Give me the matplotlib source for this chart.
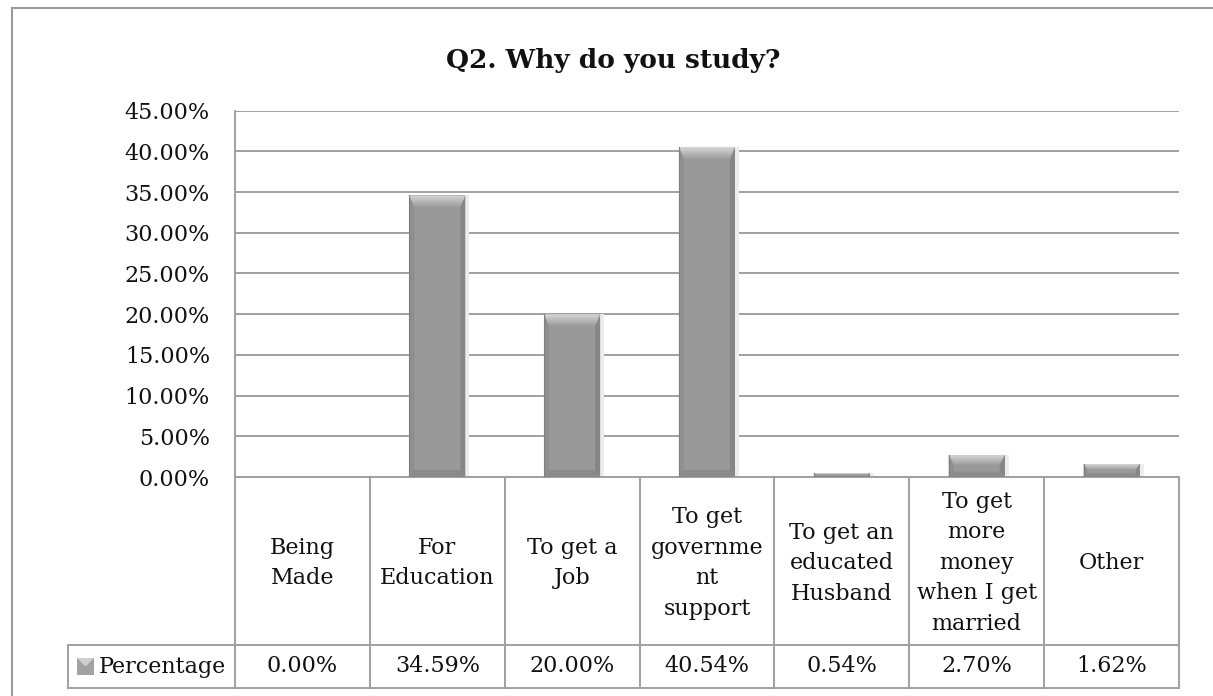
import numpy as np
import matplotlib
matplotlib.use("Agg")
import matplotlib.pyplot as plt
from matplotlib.patches import Rectangle, Polygon
from matplotlib.transforms import blended_transform_factory
from matplotlib.ticker import FuncFormatter

categories = [
    "Being\nMade",
    "For\nEducation",
    "To get a\nJob",
    "To get\ngovernme\nnt\nsupport",
    "To get an\neducated\nHusband",
    "To get\nmore\nmoney\nwhen I get\nmarried",
    "Other",
]
percentages = [0.0, 34.59, 20.00, 40.54, 0.54, 2.70, 1.62]
series_name = "Percentage"
title = "Q2. Why do you study?"
y_ticks = [0, 5, 10, 15, 20, 25, 30, 35, 40, 45]

plt.rcParams["font.family"] = ["DejaVu Serif"]
TEXT = "#111111"
LINE = "#a0a0a0"
FS = 16

W, H = 1213, 696
fig = plt.figure(figsize=(W / 100, H / 100), dpi=100)
fig.patch.set_facecolor("white")

# plot area in pixel terms
left_px, right_px, top_px, base_px = 235, 1179, 110.7, 477
ax = fig.add_axes([left_px / W, 1 - base_px / H,
                   (right_px - left_px) / W, (base_px - top_px) / H])

n = len(categories)
ax.set_xlim(-0.5, n - 0.5)
ax.set_ylim(0, max(y_ticks))
ax.set_yticks(y_ticks)
ax.yaxis.set_major_formatter(FuncFormatter(lambda v, _: f"{v:.2f}%"))
ax.set_xticks([])
ax.tick_params(axis="y", length=0, pad=18, labelsize=FS, labelcolor=TEXT)
ax.yaxis.grid(True, color=LINE, lw=1.4)
ax.set_axisbelow(True)
for side in ("top", "right"):
    ax.spines[side].set_visible(False)
for side in ("left", "bottom"):
    ax.spines[side].set_color(LINE)
    ax.spines[side].set_linewidth(1.4)

ax_h_px = base_px - top_px
dx = n / (right_px - left_px)        # data units per pixel, x
dy = max(y_ticks) / ax_h_px          # data units per pixel, y


def gradient_patch(ax, poly, c_top, c_bot, y0, y1, x0, x1, z):
    grad = np.linspace(0, 1, 64).reshape(-1, 1)
    top = np.array(matplotlib.colors.to_rgb(c_top))
    bot = np.array(matplotlib.colors.to_rgb(c_bot))
    img = top[None, None, :] * (1 - grad[:, :, None]) + bot[None, None, :] * grad[:, :, None]
    im = ax.imshow(img, extent=(x0, x1, y0, y1), origin="upper",
                   aspect="auto", zorder=z, interpolation="bilinear")
    im.set_clip_path(poly)


def bevel_bar(ax, xc, v, w):
    if v <= 0:
        return
    x0, x1 = xc - w / 2, xc + w / 2
    hpx = v / dy
    bt = min(12, hpx * 0.45) * dy
    bb = min(7, hpx * 0.25) * dy
    s = min(5, hpx * 0.3) * dx
    # soft shadow on the right
    ax.add_patch(Rectangle((x1, 0), 4 * dx, v, color="#ececec", lw=0, zorder=2))
    ax.add_patch(Rectangle((x0, 0), w, v, color="#999999", lw=0, zorder=3))
    lpoly = Polygon([(x0, v), (x0 + s, v - bt), (x0 + s, bb), (x0, 0)],
                    closed=True, color="#8f8f8f", lw=0, zorder=4)
    rpoly = Polygon([(x1, v), (x1 - s, v - bt), (x1 - s, bb), (x1, 0)],
                    closed=True, color="#868686", lw=0, zorder=4)
    bpoly = Polygon([(x0, 0), (x0 + s, bb), (x1 - s, bb), (x1, 0)],
                    closed=True, color="#8a8a8a", lw=0, zorder=4)
    for p in (lpoly, rpoly, bpoly):
        ax.add_patch(p)
    tpoly = Polygon([(x0, v), (x1, v), (x1 - s, v - bt), (x0 + s, v - bt)],
                    closed=True, fc="none", lw=0, zorder=5)
    ax.add_patch(tpoly)
    gradient_patch(ax, tpoly, "#d6d6d6", "#9c9c9c", v - bt, v, x0, x1, 5)
    ax.plot([x0, x0], [0, v], color="#7f7f7f", lw=0.8, zorder=6)


bar_w = 0.415
for i, v in enumerate(percentages):
    bevel_bar(ax, i, v, bar_w)
ax.set_xlim(-0.5, n - 0.5)
ax.set_ylim(0, max(y_ticks))

# data table under the plot
trans = blended_transform_factory(ax.transData, ax.transAxes)
row1 = 0
row2 = (base_px - 645) / ax_h_px
row3 = (base_px - 688) / ax_h_px
x_leg = -0.5 - (left_px - 68) * dx
kw = dict(color=LINE, lw=1.4, transform=trans, clip_on=False, solid_capstyle="projecting")
for i in range(n + 1):
    ax.plot([i - 0.5, i - 0.5], [row3, row1], **kw)
ax.plot([x_leg, n - 0.5], [row2, row2], **kw)
ax.plot([x_leg, n - 0.5], [row3, row3], **kw)
ax.plot([x_leg, x_leg], [row3, row2], **kw)

for i, (cat, v) in enumerate(zip(categories, percentages)):
    ax.text(i, (row1 + row2) / 2 - 2 / ax_h_px, cat, transform=trans, ha="center",
            va="center", multialignment="center", fontsize=FS, color=TEXT,
            linespacing=1.5, clip_on=False)
    ax.text(i, (row2 + row3) / 2, f"{v:.2f}%", transform=trans, ha="center",
            va="center", fontsize=FS, color=TEXT, clip_on=False)

# legend key + series name
ky0 = (base_px - 675) / ax_h_px
ky1 = (base_px - 658) / ax_h_px
kx0 = x_leg + 9 * dx
kx1 = x_leg + 26 * dx
ax.add_patch(Rectangle((kx0, ky0), kx1 - kx0, ky1 - ky0, transform=trans,
                       color="#a2a2a2", lw=0, clip_on=False))
ax.add_patch(Polygon([(kx0, ky1), (kx1, ky1), ((kx0 + kx1) / 2, (ky0 + ky1) / 2)],
                     closed=True, transform=trans, color="#cfcfcf", lw=0, clip_on=False))
ax.text(x_leg + 31 * dx, (row2 + row3) / 2, series_name, transform=trans,
        ha="left", va="center", fontsize=FS, color=TEXT, clip_on=False)

fig.text(613 / W, 1 - 68 / H, title, ha="center", va="baseline",
         fontsize=19, fontweight="bold", color=TEXT)

# chart border (runs off the right and bottom edges)
fig.add_artist(Rectangle((12 / W, -0.1), 1.2, 1 - 8 / H + 0.1, transform=fig.transFigure,
                         fill=False, ec="#9a9a9a", lw=1.5))

fig.savefig("out.png", dpi=100, facecolor="white")
